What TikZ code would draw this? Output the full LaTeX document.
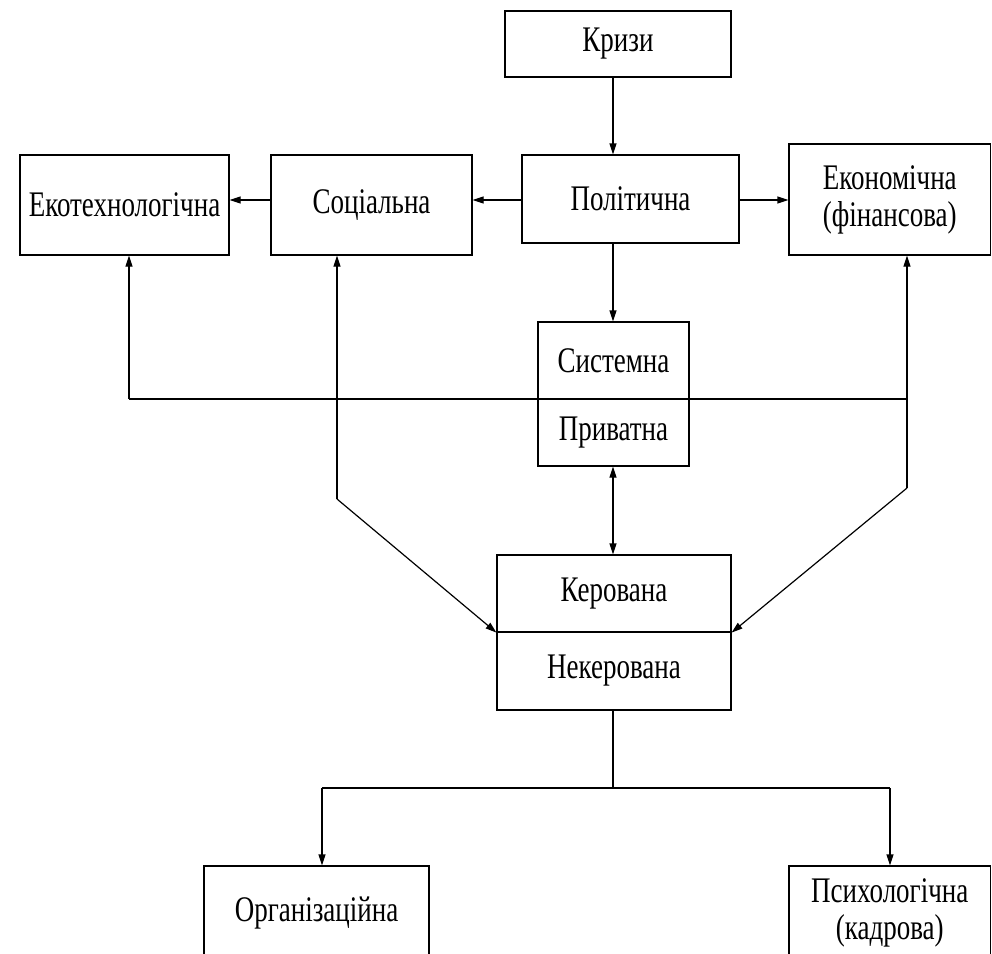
\documentclass[tikz,border=0pt]{standalone}
\usepackage{fontspec}
\setmainfont{Liberation Serif}[FakeStretch=0.75]
\usetikzlibrary{arrows.meta}
\begin{document}
\begin{tikzpicture}[x=1pt,y=-1pt,
  box/.style={draw, line width=1.2pt, rectangle, inner sep=0pt, align=center,
    font=\fontsize{36}{37}\selectfont},
  conn/.style={line width=1.2pt},
  arr/.style={conn, -{Triangle[length=11pt,width=7pt]}},
  darr/.style={conn, {Triangle[length=11pt,width=7pt]}-{Triangle[length=11pt,width=7pt]}}]
\useasboundingbox (0,0) rectangle (992,953);
\clip (0,0) rectangle (992,953);
% boxes
\node[box, minimum width=226pt, minimum height=66pt] (kryzy) at (618,44) {Кризи};
\node[box, minimum width=217pt, minimum height=88pt] (polit) at (630.5,199) {Політична};
\node[box, minimum width=201.5pt, minimum height=111pt] (econ) at (889.75,199.5) {Економічна\\(фінансова)};
\node[box, minimum width=209pt, minimum height=100pt] (eko) at (124.5,205) {Екотехнологічна};
\node[box, minimum width=201pt, minimum height=100pt] (soc) at (371.5,205) {Соціальна};
\node[box, minimum width=151pt, minimum height=77pt] (sys) at (613.5,360.5) {Системна};
\node[box, minimum width=151pt, minimum height=67pt] (priv) at (613.5,432.5) {Приватна};
\node[box, minimum width=234pt, minimum height=77pt] (ker) at (614,593.5) {Керована};
\node[box, minimum width=234pt, minimum height=78pt] (neker) at (614,671) {Некерована};
\node[box, minimum width=225pt, minimum height=94pt] (org) at (316.5,913) {Організаційна};
\node[box, minimum width=201.5pt, minimum height=94pt] (psych) at (889.75,913) {Психологічна\\(кадрова)};
% junction coordinates
\coordinate (jeko) at (129,399);
\coordinate (jecon) at (907,399);
\coordinate (jsoc) at (337,499);
\coordinate (jeco2) at (907,488);
\coordinate (jbot) at (613,788);
\coordinate (jorg) at (322,788);
\coordinate (jpsy) at (890,788);
% connectors
\draw[arr] (kryzy.south -| jbot) -- (polit.north -| jbot);
\draw[arr] (polit.west |- 0,200) -- (soc.east |- 0,200);
\draw[arr] (soc.west |- 0,200) -- (eko.east |- 0,200);
\draw[arr] (polit.east |- 0,200) -- (econ.west |- 0,200);
\draw[arr] (polit.south -| jbot) -- (sys.north -| jbot);
\draw[conn] (jeko) -- (jecon);
\draw[arr] (jeko) -- (eko.south -| jeko);
\draw[arr] (jsoc) -- (soc.south -| jsoc);
\draw[arr] (jsoc) -- (ker.south west);
\draw[arr] (jeco2) -- (econ.south -| jeco2);
\draw[arr] (jeco2) -- (ker.south east);
\draw[darr] (priv.south -| jbot) -- (ker.north -| jbot);
\draw[conn] (neker.south -| jbot) -- (jbot);
\draw[conn] (jorg) -- (jpsy);
\draw[arr] (jorg) -- (org.north -| jorg);
\draw[arr] (jpsy) -- (psych.north -| jpsy);
\end{tikzpicture}
\end{document}
